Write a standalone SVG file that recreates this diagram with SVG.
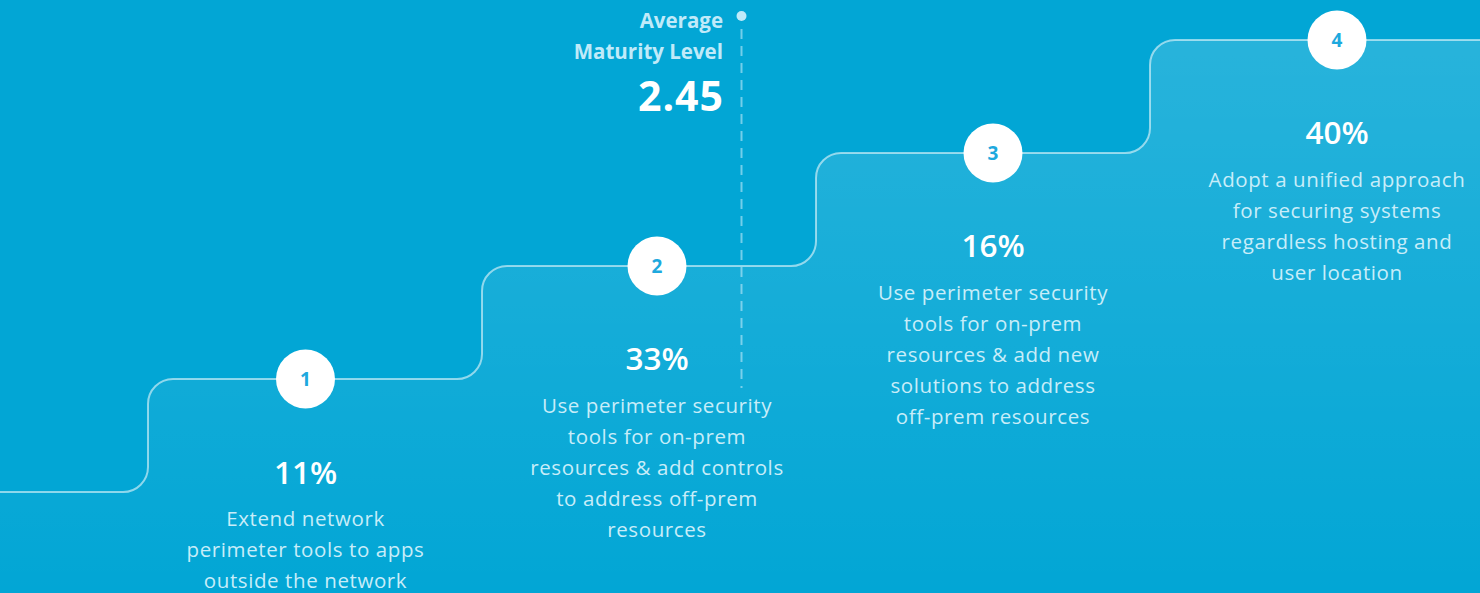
<svg xmlns="http://www.w3.org/2000/svg" width="1480" height="593" viewBox="0 0 1480 593">
<defs>
<linearGradient id="stepFill" x1="0" y1="40" x2="0" y2="593" gradientUnits="userSpaceOnUse">
<stop offset="0" stop-color="#ffffff" stop-opacity="0.15"/>
<stop offset="1" stop-color="#ffffff" stop-opacity="0"/>
</linearGradient>
<style>
.bubble{fill:#ffffff}
.num{font-family:"Open Sans","Noto Sans",sans-serif;font-weight:700;font-size:19px;fill:#1EA9DE;text-anchor:middle}
.pct{font-family:"Open Sans","Noto Sans",sans-serif;font-weight:600;font-size:31.5px;fill:#ffffff;text-anchor:middle}
.desc{font-family:"Open Sans","Noto Sans",sans-serif;font-size:20.5px;letter-spacing:0.6px;fill:#C8EDF9;text-anchor:middle}
.lbl{font-family:"Open Sans","Noto Sans",sans-serif;font-weight:700;font-size:20.5px;fill:#C0EAF9;text-anchor:end}
.big{font-family:"Open Sans","Noto Sans",sans-serif;font-weight:700;font-size:41px;letter-spacing:1px;fill:#ffffff;text-anchor:end}
</style>
</defs>
<rect width="1480" height="593" fill="#02A6D5"/>
<path d="M0,492 H123 A25,25 0 0 0 148,467 V404 A25,25 0 0 1 173,379 H457 A25,25 0 0 0 482,354 V291 A25,25 0 0 1 507,266 H791 A25,25 0 0 0 816,241 V178 A25,25 0 0 1 841,153 H1125 A25,25 0 0 0 1150,128 V65 A25,25 0 0 1 1175,40 H1480 V593 H0 Z" fill="url(#stepFill)"/>
<g id="connectors">
<path d="M0,492 H123 A25,25 0 0 0 148,467 V404 A25,25 0 0 1 173,379 H457 A25,25 0 0 0 482,354 V291 A25,25 0 0 1 507,266 H791 A25,25 0 0 0 816,241 V178 A25,25 0 0 1 841,153 H1125 A25,25 0 0 0 1150,128 V65 A25,25 0 0 1 1175,40 H1480" fill="none" stroke="#ffffff" stroke-opacity="0.55" stroke-width="2"/>
<line x1="741.5" y1="29" x2="741.5" y2="388" stroke="#C0EAF9" stroke-opacity="0.6" stroke-width="2" stroke-dasharray="10,7"/>
<circle cx="741.5" cy="16" r="5" fill="#C0EAF9"/>
</g>
<g id="average">
<text class="lbl" x="723" y="28">Average</text>
<text class="lbl" x="723" y="59">Maturity Level</text>
<text class="big" x="724" y="111">2.45</text>
</g>
<g id="step1">
<circle class="bubble" cx="305.5" cy="379" r="29.5"/>
<text class="num" x="305.5" y="386">1</text>
<text class="pct" x="305.5" y="484">11%</text>
<text class="desc" x="305.5" y="526">Extend network</text>
<text class="desc" x="305.5" y="557">perimeter tools to apps</text>
<text class="desc" x="305.5" y="588">outside the network</text>
</g>
<g id="step2">
<circle class="bubble" cx="657" cy="266" r="29.5"/>
<text class="num" x="657" y="273">2</text>
<text class="pct" x="657" y="370">33%</text>
<text class="desc" x="657" y="413">Use perimeter security</text>
<text class="desc" x="657" y="444">tools for on-prem</text>
<text class="desc" x="657" y="475">resources &amp; add controls</text>
<text class="desc" x="657" y="506">to address off-prem</text>
<text class="desc" x="657" y="537">resources</text>
</g>
<g id="step3">
<circle class="bubble" cx="993" cy="153" r="29.5"/>
<text class="num" x="993" y="160">3</text>
<text class="pct" x="993" y="257">16%</text>
<text class="desc" x="993" y="300">Use perimeter security</text>
<text class="desc" x="993" y="331">tools for on-prem</text>
<text class="desc" x="993" y="362">resources &amp; add new</text>
<text class="desc" x="993" y="393">solutions to address</text>
<text class="desc" x="993" y="424">off-prem resources</text>
</g>
<g id="step4">
<circle class="bubble" cx="1337" cy="40" r="29.5"/>
<text class="num" x="1337" y="47">4</text>
<text class="pct" x="1337" y="144">40%</text>
<text class="desc" x="1337" y="187">Adopt a unified approach</text>
<text class="desc" x="1337" y="218">for securing systems</text>
<text class="desc" x="1337" y="249">regardless hosting and</text>
<text class="desc" x="1337" y="280">user location</text>
</g>
</svg>
